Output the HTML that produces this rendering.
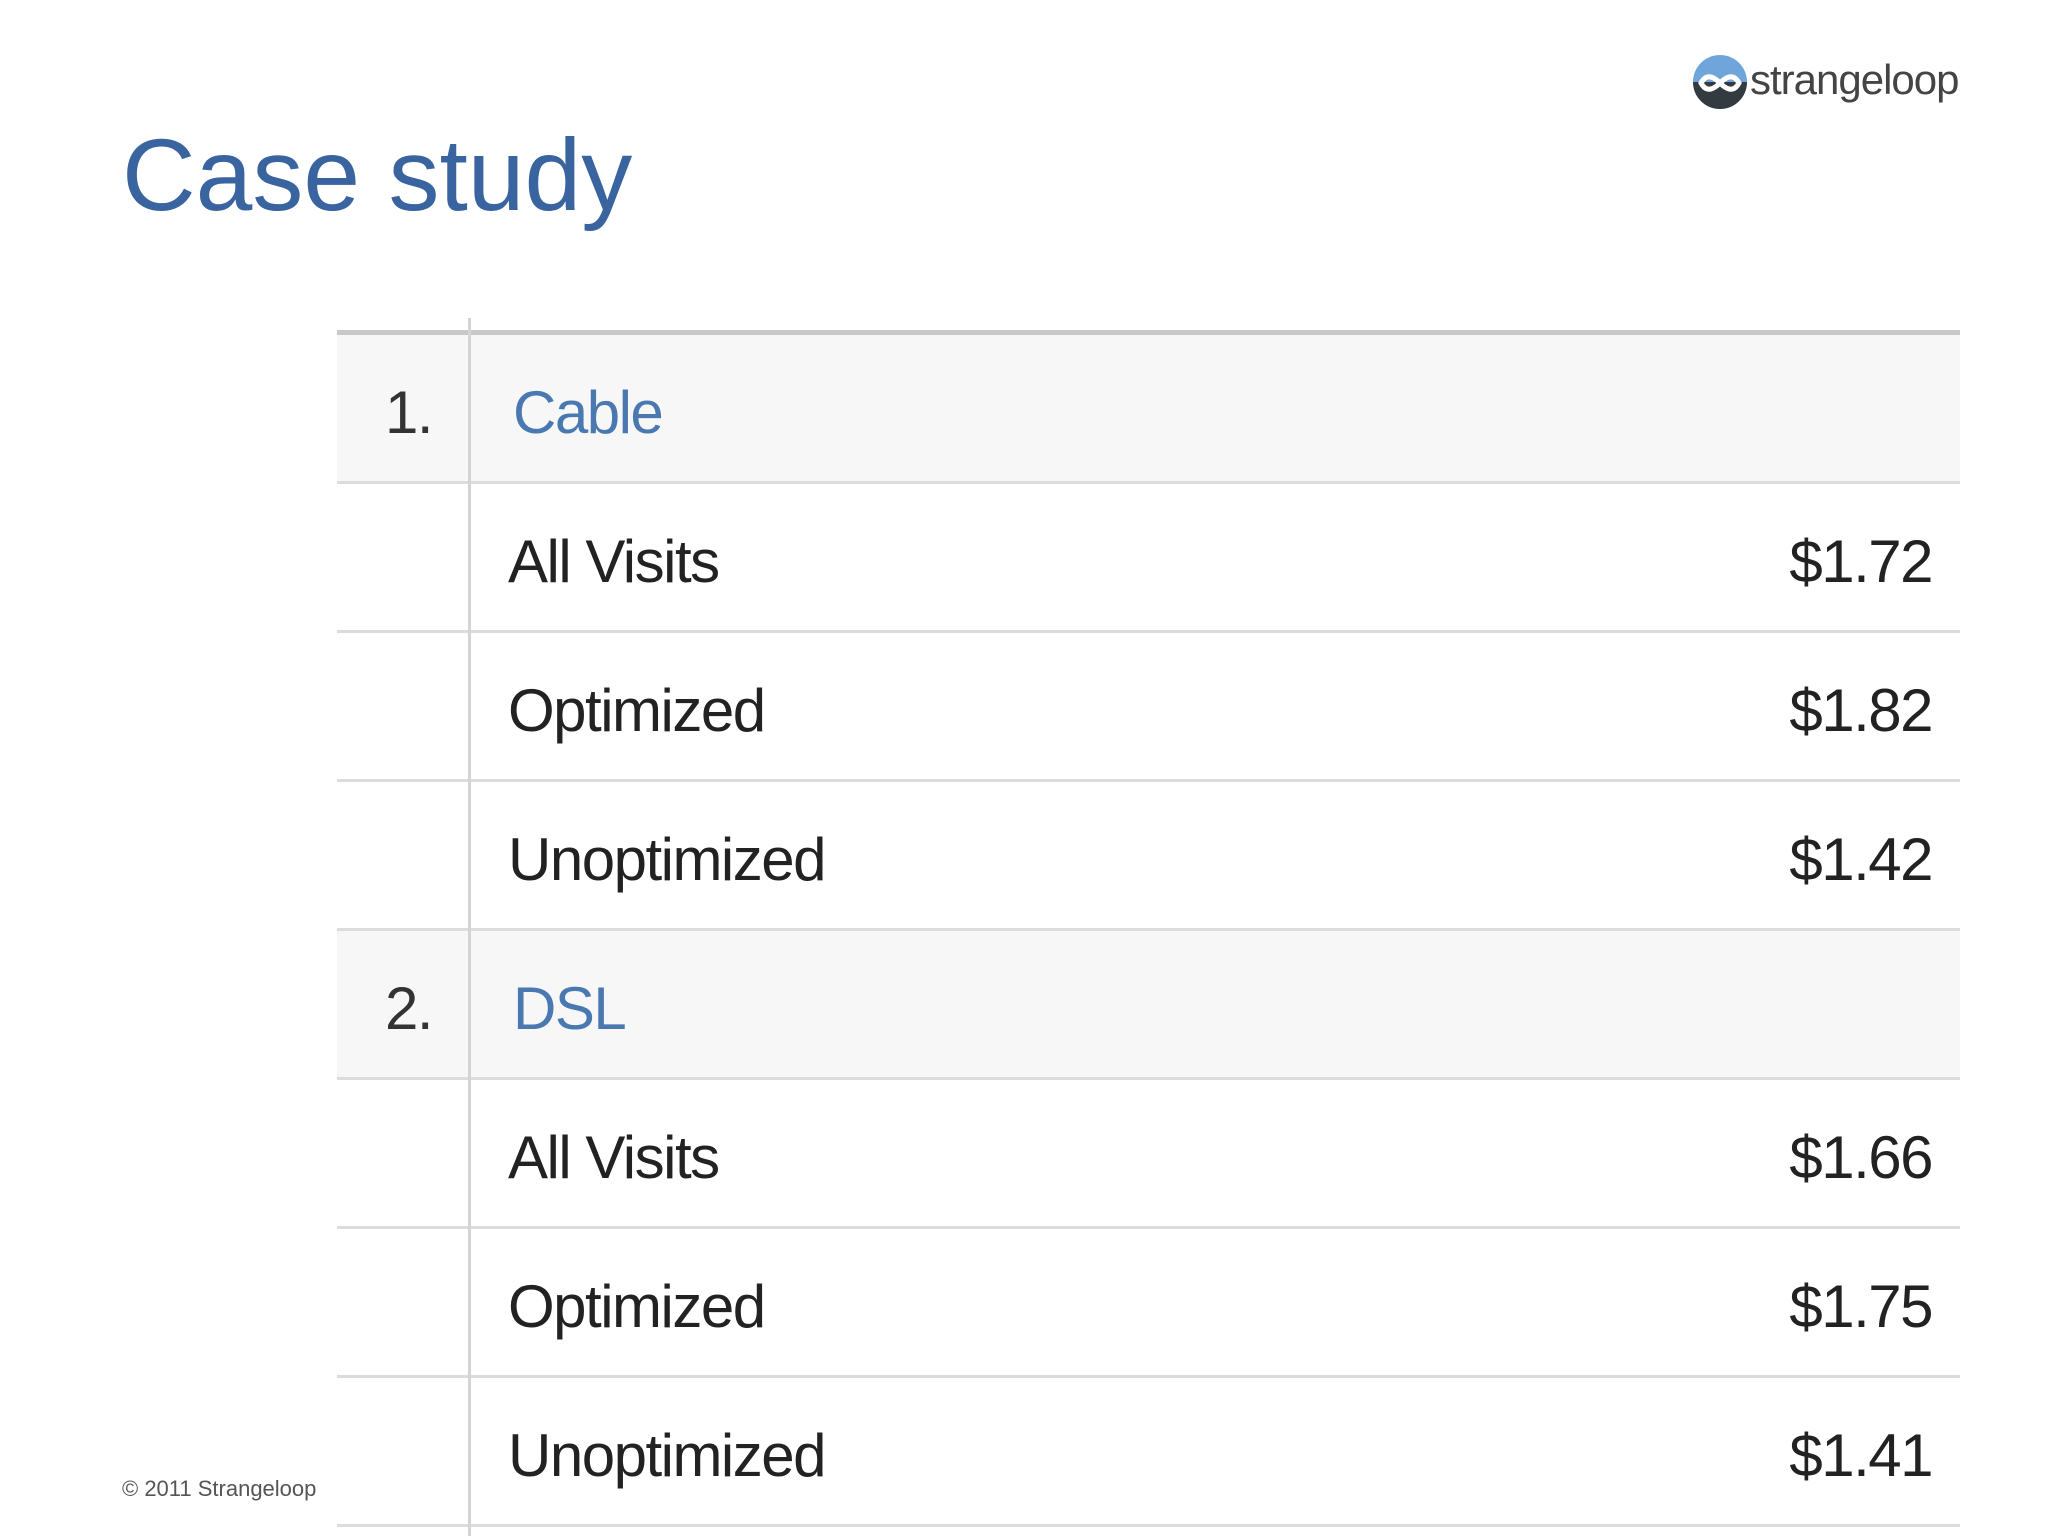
<!DOCTYPE html>
<html><head><meta charset="utf-8"><style>
body{margin:0;width:2048px;height:1536px;background:#fff;position:relative;overflow:hidden;font-family:"Liberation Sans",sans-serif}
.abs{position:absolute}
.title{left:122px;top:124px;font-size:102px;color:#3a64a0;line-height:1}
.foot{left:122px;top:1476px;font-size:22px;color:#555}
.logo{left:1693px;top:50px;width:290px;height:64px}
.hline{height:3px;background:#dcdcdc;left:337px;width:1623px}
.row{left:337px;width:1623px}
.cell{font-size:60px;letter-spacing:-1.5px;line-height:1;color:#222}
</style></head><body>
<div class="abs title">Case study</div>
<div class="abs logo">
<svg width="290" height="64" viewBox="0 0 290 64">
<circle cx="27" cy="32" r="27" fill="#6ea6db"/>
<path d="M0,32 A27,27 0 0 0 54,32 Z" fill="#333a40"/>
<path d="M8,33 C14,22 22,28 27,33 C32,38 40,44 46,33 C40,22 32,28 27,33 C22,38 14,44 8,33 Z" fill="none" stroke="#fff" stroke-width="5"/>
<text x="57" y="44" font-family="Liberation Sans, sans-serif" font-size="42" letter-spacing="-1" fill="#444">strangeloop</text>
</svg></div>
<div class="abs" style="left:337px;top:330px;width:1623px;height:5px;background:#c8c8c8"></div>
<div id="tbl"></div>
<div class="abs" style="left:468px;top:318px;width:3px;height:1218px;background:#d4d4d4;z-index:5"></div>
<div class="abs foot">© 2011 Strangeloop</div>
<script>
const labels=["Cable","All Visits","Optimized","Unoptimized","DSL","All Visits","Optimized","Unoptimized"];
const ranks=["1.","","","","2.","","",""];
const values=["","$1.72","$1.82","$1.42","","$1.66","$1.75","$1.41"];
const tbl=document.getElementById('tbl');
const top0=335,rh=149;
labels.forEach((lab,i)=>{
  const y=top0+i*rh;
  const hdr=ranks[i]!=="";
  if(hdr){
    const bg=document.createElement('div');
    bg.className='abs row';
    bg.style.cssText=`top:${y}px;height:${rh-3}px;background:#f7f7f8`;
    
    
    tbl.appendChild(bg);
    const r=document.createElement('div');
    r.className='abs cell';
    r.style.cssText=`left:385px;top:${y+48}px;color:#333`;
    r.textContent=ranks[i];
    
    
    tbl.appendChild(r);
  }
  const l=document.createElement('div');
  l.className='abs cell';
  l.style.cssText=`left:${hdr?513:508}px;top:${y+48}px;color:${hdr?'#4a78b0':'#222'}`;
  l.textContent=lab;
  
  
  tbl.appendChild(l);
  if(values[i]){
    const v=document.createElement('div');
    v.className='abs cell';
    v.style.cssText=`right:${2048-1932}px;top:${y+48}px`;
    v.textContent=values[i];
    
    
    tbl.appendChild(v);
  }
  const h=document.createElement('div');
  h.className='abs hline';
  h.style.top=(y+rh-3)+'px';
  
  
  tbl.appendChild(h);
});
</script>
</body></html>
